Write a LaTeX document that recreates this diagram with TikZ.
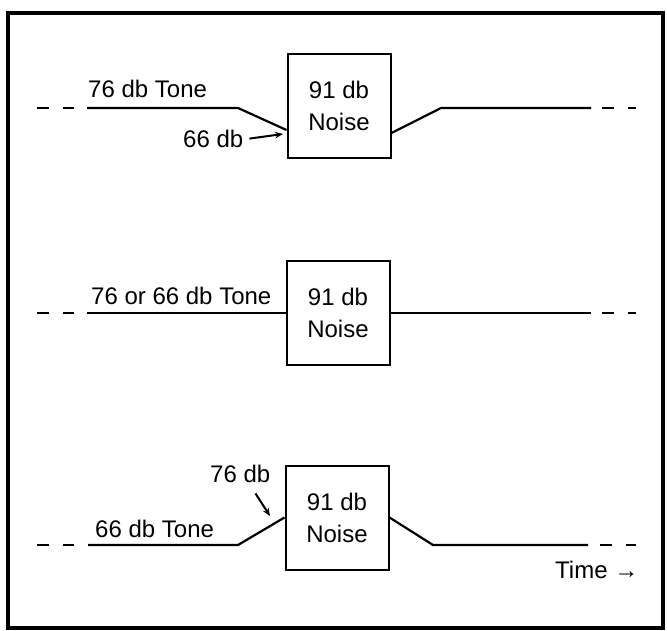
\documentclass[tikz,border=0pt]{standalone}
\usepackage{fontspec}
\setmainfont{Liberation Sans}
\usetikzlibrary{arrows.meta}
\begin{document}
\begin{tikzpicture}[x=1pt,y=-1pt,
  noisebox/.style={draw,line width=2pt,minimum width=103pt,minimum height=104pt,inner sep=0pt,align=center,font=\fontsize{24}{32}\selectfont},
  lbl/.style={inner sep=0pt,font=\fontsize{24}{28}\selectfont,anchor=base west},
  tone/.style={line width=2.2pt,line join=miter},
  dashpart/.style={line width=2.2pt,dash pattern=on 11.5pt off 14pt},
  pointer/.style={line width=2pt,-{Stealth[length=8pt,width=6.5pt]}}]
\useasboundingbox (0,0) rectangle (667,631);
\draw[line width=3.5pt] (8,13) rectangle (663,628);

% ---------- panel 1 ----------
\node[noisebox] (n1) at (339,106) {91 db\\Noise};
\coordinate (a1) at (37,108);
\coordinate (b1) at (74,108);
\coordinate (c1) at (87,108);
\coordinate (d1) at (238,108);
\coordinate (e1) at (441,108);
\coordinate (f1) at (591,108);
\coordinate (g1) at (602,108);
\coordinate (h1) at (636,108);
\coordinate (p1) at (283,134);
\draw[dashpart] (a1) -- (b1);
\draw[tone] (c1) -- (d1) -- ([yshift=-24pt]n1.west);
\draw[tone] ([yshift=-27pt]n1.east) -- (e1) -- (f1);
\draw[dashpart] (g1) -- (h1);
\node[lbl] (t1) at (88,98) {76 db Tone};
\node[lbl] (t66a) at (183,148) {66 db};
\draw[pointer,shorten <=6pt] (t66a.east) -- (p1);

% ---------- panel 2 ----------
\node[noisebox] (n2) at (338,313) {91 db\\Noise};
\coordinate (a2) at (37,313);
\coordinate (b2) at (74,313);
\coordinate (c2) at (87,313);
\coordinate (f2) at (591,313);
\coordinate (g2) at (602,313);
\coordinate (h2) at (636,313);
\draw[dashpart] (a2) -- (b2);
\draw[tone] (c2) -- (n2.west);
\draw[tone] (n2.east) -- (f2);
\draw[dashpart] (g2) -- (h2);
\node[lbl] (t2) at (91,305) {76 or 66 db Tone};

% ---------- panel 3 ----------
\node[noisebox] (n3) at (337,517.5) {91 db\\Noise};
\coordinate (a3) at (37,545);
\coordinate (b3) at (74,545);
\coordinate (c3) at (88,545);
\coordinate (d3) at (238,545);
\coordinate (e3) at (433,545);
\coordinate (f3) at (588,545);
\coordinate (g3) at (600,545);
\coordinate (h3) at (636,545);
\coordinate (p3) at (270,516);
\draw[dashpart] (a3) -- (b3);
\draw[tone] (c3) -- (d3) -- (n3.west);
\draw[tone] (n3.east) -- (e3) -- (f3);
\draw[dashpart] (g3) -- (h3);
\node[lbl] (t76c) at (210,482) {76 db};
\draw[pointer] ([xshift=-15pt,yshift=-11pt]t76c.south east) -- (p3);
\node[lbl] (t3) at (95,537) {66 db Tone};
\node[lbl] (time) at (555,578) {Time →};
\end{tikzpicture}
\end{document}
